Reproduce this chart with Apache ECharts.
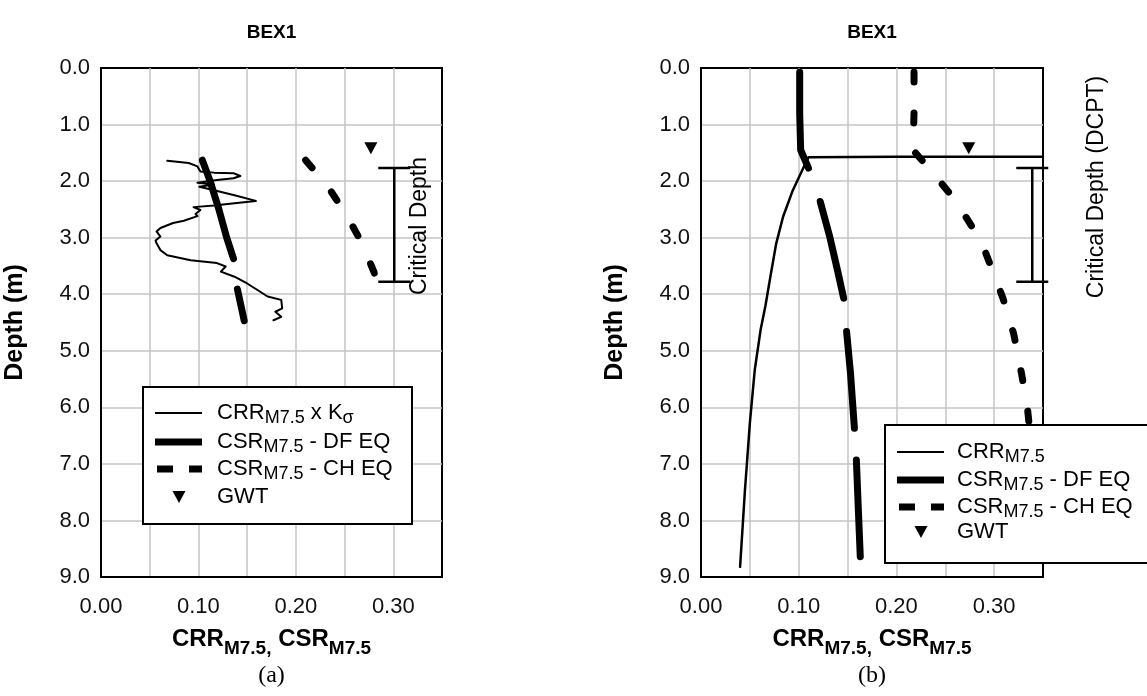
<!DOCTYPE html>
<html><head><meta charset="utf-8">
<script src="https://cdn.jsdelivr.net/npm/echarts@6/dist/echarts.min.js"></script>
<style>html,body{margin:0;padding:0;background:#fff}#c{width:1147px;height:696px}</style>
</head><body><div id="c"></div><script>
// ---------- DATA ----------
var xTicks = [0, 0.05, 0.10, 0.15, 0.20, 0.25, 0.30, 0.35];
var depthTicks = [0, 1, 2, 3, 4, 5, 6, 7, 8, 9];
// Panel (a)
var crrA = [[0.068,1.64],[0.090,1.68],[0.099,1.74],[0.102,1.83],[0.116,1.85],[0.136,1.86],[0.143,1.91],[0.136,1.95],[0.119,1.98],[0.099,2.03],[0.116,2.06],[0.101,2.10],[0.116,2.16],[0.137,2.25],[0.159,2.35],[0.137,2.39],[0.116,2.43],[0.095,2.46],[0.102,2.51],[0.097,2.58],[0.099,2.62],[0.085,2.70],[0.074,2.74],[0.061,2.83],[0.057,2.89],[0.061,2.98],[0.056,3.05],[0.057,3.10],[0.061,3.22],[0.068,3.31],[0.092,3.40],[0.119,3.45],[0.128,3.51],[0.123,3.60],[0.137,3.69],[0.150,3.81],[0.161,3.93],[0.171,4.04],[0.185,4.10],[0.186,4.25],[0.179,4.31],[0.185,4.40],[0.177,4.46]];
var dfA1 = [[0.104,1.63],[0.112,2.0],[0.121,2.5],[0.129,3.0],[0.136,3.37]];
var dfA2 = [[0.140,3.91],[0.147,4.47]];
var chA = [[0.210,1.63],[0.233,2.1],[0.252,2.6],[0.268,3.1],[0.280,3.6],[0.289,4.10]];
var gwtA = [[0.277,1.42]];
var critA = [[0.301,1.77,3.78]];
// Panel (b)
var crrB = [[0.350,1.57],[0.200,1.57],[0.110,1.58],[0.106,1.72],[0.094,2.16],[0.084,2.63],[0.077,3.10],[0.071,3.69],[0.066,4.20],[0.061,4.63],[0.055,5.34],[0.050,6.28],[0.045,7.46],[0.040,8.82]];
var dfB1 = [[0.101,0.07],[0.101,0.8],[0.102,1.45],[0.110,1.77]];
var dfB2 = [[0.122,2.36],[0.132,3.0],[0.140,3.6],[0.146,4.07]];
var dfB3 = [[0.149,4.66],[0.153,5.4],[0.157,6.37]];
var dfB4 = [[0.159,6.93],[0.161,7.8],[0.163,8.64]];
var chB = [[0.218,0.07],[0.218,0.8],[0.217,1.45],[0.233,1.77],[0.260,2.33],[0.287,3.07],[0.309,4.07],[0.320,4.7],[0.328,5.4],[0.334,6.0],[0.340,7.0],[0.345,8.0],[0.350,8.9]];
var gwtB = [[0.274,1.42]];
var critB = [[0.339,1.77,3.78]];

// ---------- CHART ----------
var F = "'Liberation Sans', Arial, sans-serif";
var chart = echarts.init(document.getElementById('c'), null, {renderer:'canvas'});

function xAx(gi){
  return {type:'value', gridIndex:gi, min:xTicks[0], max:xTicks[xTicks.length-1], interval:xTicks[1]-xTicks[0],
    axisLine:{show:true,onZero:false,lineStyle:{color:'#000',width:2}}, axisTick:{show:false},
    splitLine:{show:true,showMinLine:false,showMaxLine:false,lineStyle:{color:'#c4c4c4',width:1.5}},
    axisLabel:{margin:19,fontSize:22,color:'#111',fontFamily:F,formatter:function(v){var k=Math.round(v*100);return k%10===0?(k/100).toFixed(2):'';}},
    name:'{b|CRR}{s|M7.5,}{b| CSR}{s|M7.5}', nameLocation:'middle', nameGap:43,
    nameTextStyle:{rich:{b:{fontSize:24,fontWeight:'bold',fontFamily:F,color:'#000'},s:{fontSize:19,fontWeight:'bold',fontFamily:F,color:'#000',padding:[19,0,0,0]}}}
  };
}
function yAx(gi){
  return {type:'value', gridIndex:gi, inverse:true, min:depthTicks[0], max:depthTicks[depthTicks.length-1], interval:depthTicks[1]-depthTicks[0],
    axisLine:{show:true,onZero:false,lineStyle:{color:'#000',width:2}}, axisTick:{show:false},
    splitLine:{show:true,showMinLine:false,showMaxLine:false,lineStyle:{color:'#c4c4c4',width:1.5}},
    axisLabel:{margin:11,fontSize:22,color:'#111',fontFamily:F,formatter:function(v){return v.toFixed(1);}},
    name:'Depth (m)', nameLocation:'middle', nameGap:73, nameRotate:90,
    nameTextStyle:{fontSize:25,fontWeight:'bold',fontFamily:F,color:'#000'}
  };
}
function line(data, gi, w, type, clip){
  return {type:'line', xAxisIndex:gi, yAxisIndex:gi, data:data, symbol:'none', silent:true, clip:clip!==false,
    lineStyle:{color:'#000', width:w, type:type||'solid', cap:'round', join:'round'}, z:3};
}
function tri(data, gi){
  return {type:'scatter', xAxisIndex:gi, yAxisIndex:gi, data:data, symbol:'triangle', symbolRotate:180, symbolSize:[13,12], itemStyle:{color:'#000', opacity:1}, z:4};
}
function crit(data, gi){
  return {type:'custom', xAxisIndex:gi, yAxisIndex:gi, data:data, clip:false, z:4,
    renderItem:function(params, api){
      var p1 = api.coord([api.value(0), api.value(1)]);
      var p2 = api.coord([api.value(0), api.value(2)]);
      var h = 16, s = {stroke:'#000', lineWidth:2.5};
      return {type:'group', children:[
        {type:'line', shape:{x1:p1[0],y1:p1[1],x2:p2[0],y2:p2[1]}, style:s},
        {type:'line', shape:{x1:p1[0]-h,y1:p1[1],x2:p1[0]+h,y2:p1[1]}, style:s},
        {type:'line', shape:{x1:p2[0]-h,y1:p2[1],x2:p2[0]+h,y2:p2[1]}, style:s}
      ]};
    }};
}
var dash = [10, 31];

var legRich = {b:{fontSize:22,fontFamily:F,color:'#000'}, s:{fontSize:18,fontFamily:F,color:'#000',padding:[11,0,0,0]}};
function legend(x0, y0, w, h, rows, lx, tx, texts){
  var els = [{type:'rect', shape:{x:x0,y:y0,width:w,height:h}, style:{fill:'#fff',stroke:'#000',lineWidth:2}, z:100}];
  els.push({type:'line', shape:{x1:lx,y1:rows[0],x2:lx+47,y2:rows[0]}, style:{stroke:'#000',lineWidth:2}, z:101});
  els.push({type:'line', shape:{x1:lx,y1:rows[1],x2:lx+47,y2:rows[1]}, style:{stroke:'#000',lineWidth:7}, z:101});
  els.push({type:'line', shape:{x1:lx+2,y1:rows[2],x2:lx+47,y2:rows[2]}, style:{stroke:'#000',lineWidth:7,lineDash:[16,16]}, z:101});
  var cx = lx+24, cy = rows[3];
  els.push({type:'polygon', shape:{points:[[cx-6.5,cy-6],[cx+6.5,cy-6],[cx,cy+6]]}, style:{fill:'#000'}, z:101});
  for (var i=0;i<4;i++){
    els.push({type:'text', x:tx, y:rows[i], z:101, style:{text:texts[i], rich:legRich, verticalAlign:'middle', align:'left', fontFamily:F, fontSize:22}});
  }
  return els;
}
function txt(x, y, t, size, bold, fam, rot){
  return {type:'text', x:x, y:y, rotation:rot||0, z:50, style:{text:t, fontSize:size, fontWeight:bold?'bold':'normal', fontFamily:fam||F, fill:'#000', align:'center', verticalAlign:'middle'}};
}

var graphics = [].concat(
  [txt(271.5, 33, 'BEX1', 19, true), txt(872, 33, 'BEX1', 19, true),
   txt(271.5, 676, '(a)', 24, false, "'Liberation Serif', 'Times New Roman', serif"),
   txt(872, 676, '(b)', 24, false, "'Liberation Serif', 'Times New Roman', serif"),
   txt(420, 226, 'Critical Depth', 23, false, F, Math.PI/2),
   txt(1097, 187, 'Critical Depth (DCPT)', 23, false, F, Math.PI/2)],
  legend(143, 387, 269, 137, [413,442,469,497], 155, 217,
    ['{b|CRR}{s|M7.5}{b| x K}{s|σ}','{b|CSR}{s|M7.5}{b| - DF EQ}','{b|CSR}{s|M7.5}{b| - CH EQ}','{b|GWT}']),
  legend(885, 425, 275, 138, [452,480,507,532], 897, 957,
    ['{b|CRR}{s|M7.5}','{b|CSR}{s|M7.5}{b| - DF EQ}','{b|CSR}{s|M7.5}{b| - CH EQ}','{b|GWT}'])
);

chart.setOption({
  animation:false,
  backgroundColor:'#fff',
  grid:[
    {left:101, top:68, width:341, height:509, show:true, borderColor:'#000', borderWidth:2, containLabel:false},
    {left:701, top:68, width:342, height:509, show:true, borderColor:'#000', borderWidth:2, containLabel:false}
  ],
  xAxis:[xAx(0), xAx(1)],
  yAxis:[yAx(0), yAx(1)],
  series:[
    line(crrA,0,2), line(dfA1,0,7), line(dfA2,0,7), line(chA,0,7,dash), tri(gwtA,0), crit(critA,0),
    line(crrB,1,2.5), line(dfB1,1,7), line(dfB2,1,7), line(dfB3,1,7), line(dfB4,1,7), line(chB,1,7,dash), tri(gwtB,1), crit(critB,1)
  ],
  graphic:graphics
});
</script></body></html>
